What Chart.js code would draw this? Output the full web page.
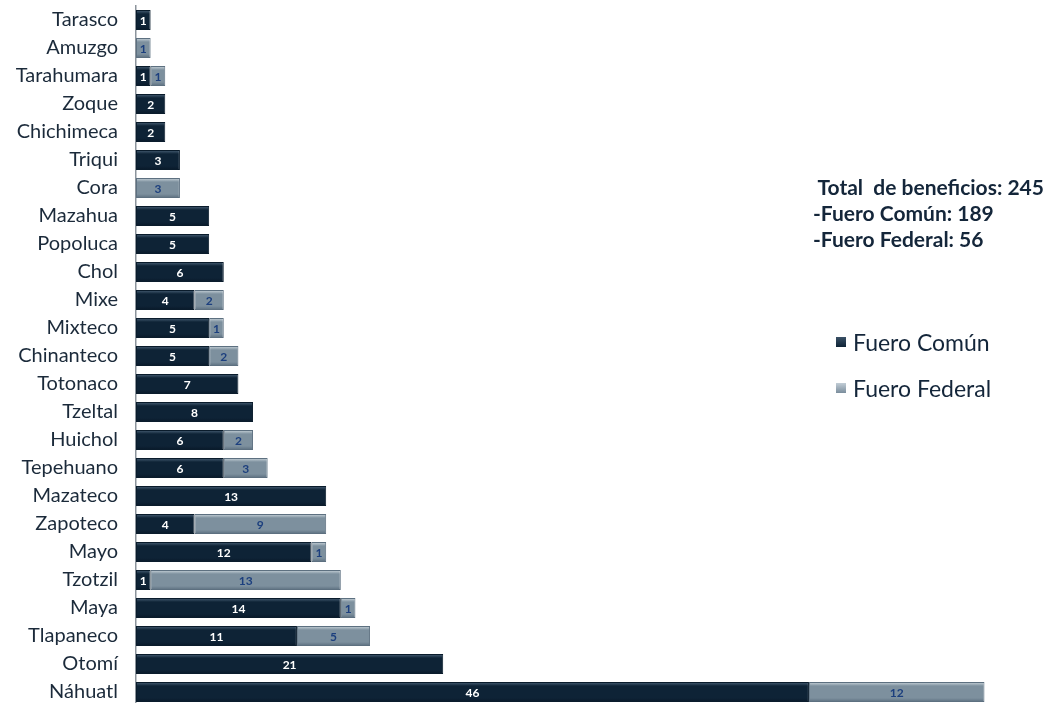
<!DOCTYPE html>
<html>
<head>
<meta charset="utf-8">
<script src="https://cdn.jsdelivr.net/npm/chart.js@4.4.0/dist/chart.umd.min.js"></script>
<style>
  body { margin: 0; background: #fff; overflow: hidden; }
  #wrap { position: relative; width: 1054px; height: 703px; overflow: hidden; }
  #myChart { display: block; }
  #info { position: absolute; left: 813px; top: 174px; font-family: Lato, sans-serif; font-weight: bold; color: #14263a; font-size: 21px; line-height: 26px; }
  #leg { position: absolute; left: 836px; top: 328px; font-family: Lato, sans-serif; color: #14263a; font-size: 23px; }
  #leg div { height: 46px; }
  #leg span.sq { display: inline-block; width: 10px; height: 10px; margin-right: 7px; vertical-align: 4px; }
</style>
</head>
<body>
<div id="wrap">
  <canvas id="myChart" width="1054" height="706"></canvas>
  <div id="info">
    <div>&nbsp;Total&nbsp; de beneficios: 245</div>
    <div>-Fuero Común: 189</div>
    <div>-Fuero Federal: 56</div>
  </div>
  <div id="leg">
    <div><span class="sq" style="background:linear-gradient(#3a5066,#0e2336)"></span>Fuero Común</div>
    <div><span class="sq" style="background:linear-gradient(#c2cdd6,#7a8d9c)"></span>Fuero Federal</div>
  </div>
</div>
<script>
var pueblos = ['Tarasco', 'Amuzgo', 'Tarahumara', 'Zoque', 'Chichimeca', 'Triqui', 'Cora', 'Mazahua', 'Popoluca', 'Chol',
	'Mixe', 'Mixteco', 'Chinanteco', 'Totonaco', 'Tzeltal', 'Huichol', 'Tepehuano', 'Mazateco', 'Zapoteco', 'Mayo',
	'Tzotzil', 'Maya', 'Tlapaneco', 'Otomí', 'Náhuatl'];
var fueroComun = [1, 0, 1, 2, 2, 3, 0, 5, 5, 6, 4, 5, 5, 7, 8, 6, 6, 13, 4, 12, 1, 14, 11, 21, 46];
var fueroFederal = [0, 1, 1, 0, 0, 0, 3, 0, 0, 0, 2, 1, 2, 0, 0, 2, 3, 0, 9, 1, 13, 1, 5, 0, 12];

function barGradient(stops) {
	return function (context) {
		var chart = context.chart;
		var yScale = chart.scales.y;
		if (!yScale || context.dataIndex === undefined) return stops[1];
		var y = yScale.getPixelForValue(context.dataIndex);
		if (!isFinite(y)) return stops[1];
		var h = 10;
		var g = chart.ctx.createLinearGradient(0, y - h, 0, y + h);
		g.addColorStop(0, stops[0]);
		g.addColorStop(0.2, stops[1]);
		g.addColorStop(0.8, stops[1]);
		g.addColorStop(1, stops[2]);
		return g;
	};
}

// valores dentro de las barras
var valueLabels = {
	id: 'valueLabels',
	afterDatasetsDraw: function (chart) {
		var ctx = chart.ctx;
		ctx.save();
		ctx.font = 'bold 12px Lato, sans-serif';
		ctx.textAlign = 'center';
		ctx.textBaseline = 'middle';
		chart.data.datasets.forEach(function (ds, di) {
			var meta = chart.getDatasetMeta(di);
			meta.data.forEach(function (bar, i) {
				var v = ds.data[i];
				if (!v) return;
				ctx.fillStyle = di === 0 ? '#ffffff' : '#1c3f7e';
				ctx.fillText(v, (bar.x + bar.base) / 2, bar.y + 1);
			});
		});
		ctx.restore();
	}
};

const cdata = {
	labels: pueblos,
	datasets: [{
		label: 'Fuero Común',
		data: fueroComun,
		backgroundColor: barGradient(['#4a6177', '#0e2336', '#081828']),
		borderColor: '#0a1c2c',
		borderWidth: 1,
		borderSkipped: false
	}, {
		label: 'Fuero Federal',
		data: fueroFederal,
		backgroundColor: barGradient(['#ccd6dd', '#7d909e', '#5a6e7e']),
		borderColor: '#5d7080',
		borderWidth: 1,
		borderSkipped: false
	}]
};

const cconfig = {
	type: 'bar',
	data: cdata,
	options: {
		indexAxis: 'y',
		responsive: false,
		animation: false,
		barPercentage: 0.72,
		categoryPercentage: 1,
		layout: { padding: { top: 6, bottom: 0, left: 0, right: 11 } },
		scales: {
			x: {
				stacked: true,
				min: 0,
				max: 62,
				display: false
			},
			y: {
				stacked: true,
				grid: { display: false, drawTicks: false },
				border: { display: true, color: '#8c949c', width: 1.5 },
				ticks: {
					color: '#1b2a3a',
					padding: 18,
					font: { family: 'Lato, sans-serif', size: 20 }
				},
				afterFit: function (scale) {
					scale.width = 136;
					scale.paddingTop = 0;
					scale.paddingBottom = 0;
				}
			}
		},
		plugins: {
			legend: { display: false },
			tooltip: { enabled: false }
		}
	},
	plugins: [valueLabels]
};

const myChart = new Chart(
	document.getElementById('myChart').getContext('2d'),
	cconfig
);
</script>
</body>
</html>
